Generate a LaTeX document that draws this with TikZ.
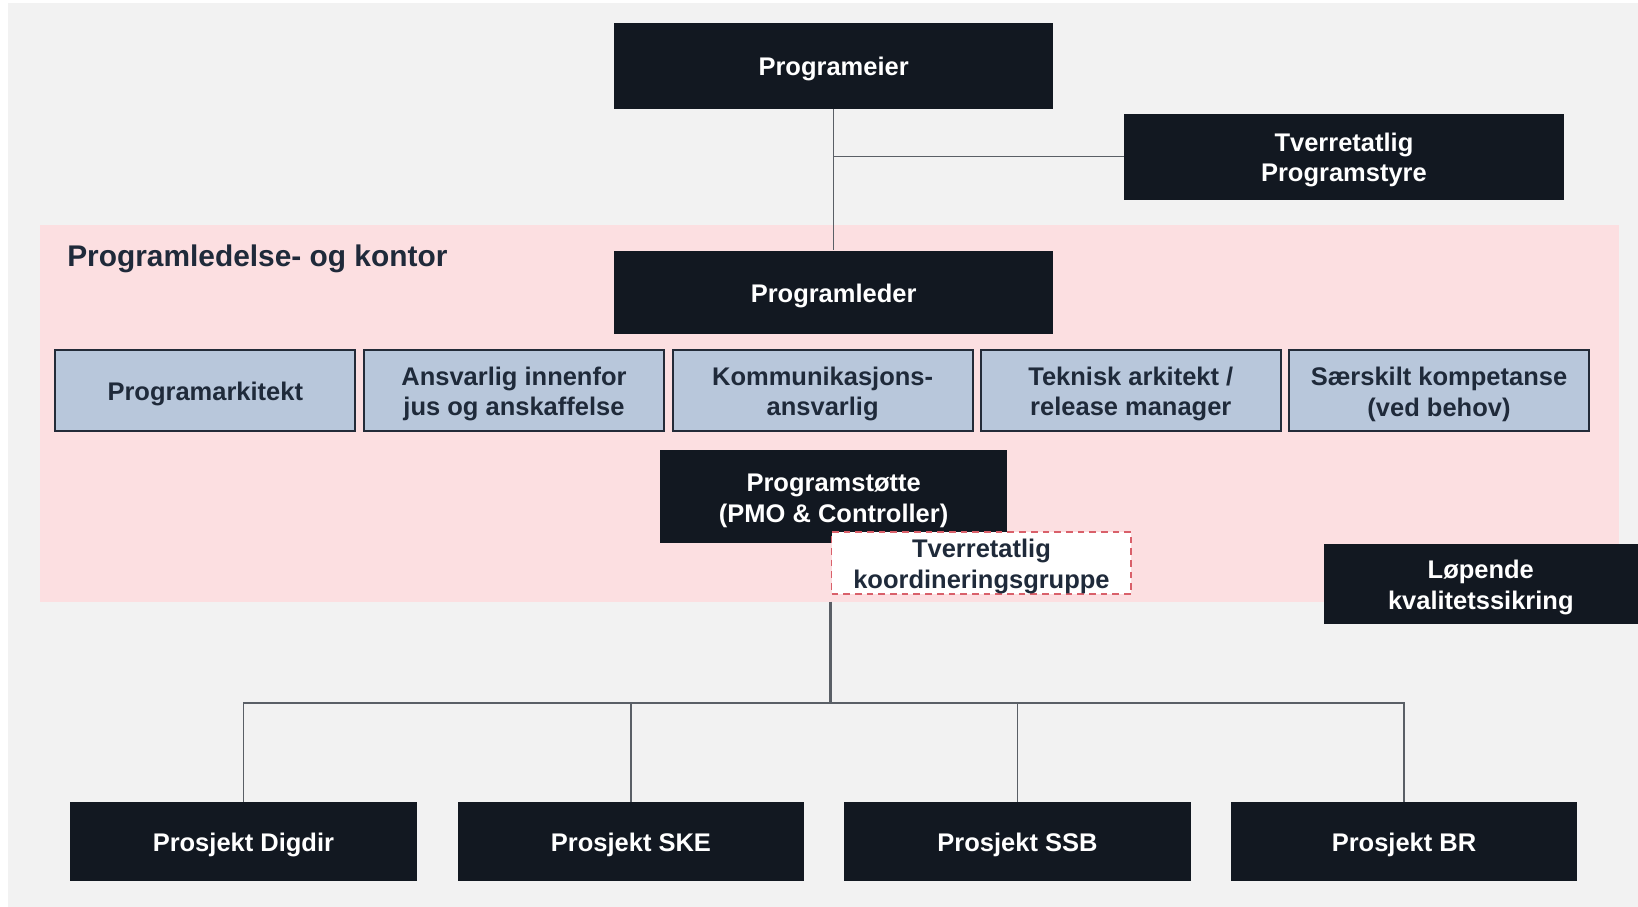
\documentclass[tikz,border=0pt]{standalone}
\usepackage{fontspec}
\setmainfont{Liberation Sans}
\definecolor{darkbox}{HTML}{121821}
\definecolor{bluebox}{HTML}{B8C7DB}
\definecolor{pinkbg}{HTML}{FCDFE1}
\definecolor{graybg}{HTML}{F2F2F2}
\definecolor{navytext}{HTML}{1F2A3A}
\definecolor{blueborder}{HTML}{232B38}
\definecolor{dashred}{HTML}{D9606A}
\definecolor{linegray}{HTML}{5A5F66}
\newcommand\topstrut{\rule{0pt}{12pt}}
\tikzset{
  boxfont/.style={font=\bfseries\fontsize{12.2}{14.75}\selectfont},
  darknode/.style={fill=darkbox, draw=none, text=white, boxfont, align=center, inner sep=0pt},
  bluenode/.style={fill=bluebox, draw=blueborder, line width=1pt, text=navytext, boxfont, align=center, inner sep=0pt, minimum width=143.5pt, minimum height=39pt},
  dashnode/.style={fill=white, draw=dashred, dash pattern=on 3.2pt off 2.4pt, line width=0.9pt, text=navytext, boxfont, align=center, inner sep=0pt, minimum width=143.5pt, minimum height=30pt},
  projnode/.style={darknode, minimum width=166pt, minimum height=37.5pt},
  conn/.style={draw=linegray, line width=0.55pt}
}
\begin{document}
\begin{tikzpicture}[x=0.5pt, y=-0.5pt]
\useasboundingbox (0,0) rectangle (1568,868);
\fill[white] (0,0) rectangle (1568,868);
\fill[graybg] (8,3) rectangle (1568,868);
\fill[pinkbg] (38,215) rectangle (1550,576);
\node[anchor=west, text=navytext, font=\bfseries\fontsize{14.3}{17}\selectfont, inner sep=0pt] (title) at (64,248) {Programledelse- og kontor};

\node[darknode, minimum width=210pt, minimum height=41pt] (eier) at (798,63) {\topstrut Programeier};
\node[darknode, minimum width=210.5pt, minimum height=41pt] (styre) at (1286.5,150) {\topstrut Tverretatlig\\Programstyre};
\node[darknode, minimum width=210pt, minimum height=40pt] (leder) at (798,280) {\topstrut Programleder};

\node[bluenode] (b1) at (196.5,374) {\topstrut Programarkitekt};
\node[bluenode] (b2) at (492,374) {\topstrut Ansvarlig innenfor\\jus og anskaffelse};
\node[bluenode] (b3) at (787.5,374) {\topstrut Kommunikasjons-\\ansvarlig};
\node[bluenode] (b4) at (1082.5,374) {\topstrut Teknisk arkitekt /\\release manager};
\node[bluenode] (b5) at (1377.5,374) {\topstrut Særskilt kompetanse\\(ved behov)};

\node[darknode, minimum width=166pt, minimum height=44.5pt] (stotte) at (798,475.5) {\topstrut Programstøtte\\(PMO \& Controller)};
\node[dashnode] (koord) at (939.5,539) {\topstrut Tverretatlig\\koordineringsgruppe};
\node[darknode, minimum width=150.5pt, minimum height=38pt] (lopende) at (1417.5,559) {\topstrut Løpende\\kvalitetssikring};

\node[projnode] (p1) at (233,805.5) {\topstrut Prosjekt Digdir};
\node[projnode] (p2) at (604,805.5) {\topstrut Prosjekt SKE};
\node[projnode] (p3) at (974,805.5) {\topstrut Prosjekt SSB};
\node[projnode] (p4) at (1344,805.5) {\topstrut Prosjekt BR};

\draw[conn] (eier.south) -- (leder.north);
\draw[conn] (styre.west) -- (styre.west -| eier.south);

\coordinate (hub) at (795,576);
\coordinate (bus) at (795,673);
\draw[draw=linegray, line width=1pt] (hub) -- (bus);
\draw[conn] (p1.north) |- (bus) -| (p4.north);
\draw[conn] (p2.north) -- (p2.north |- bus);
\draw[conn] (p3.north) -- (p3.north |- bus);
\end{tikzpicture}
\end{document}
